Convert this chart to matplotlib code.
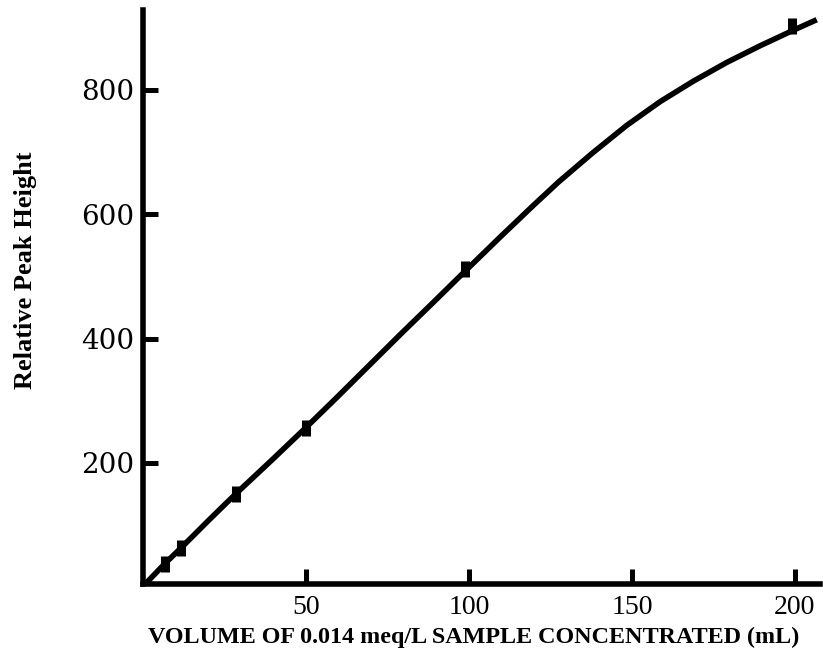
import matplotlib
matplotlib.use("Agg")
import matplotlib.pyplot as plt

# Measured data points (volume mL, relative peak height)
point_x = [6.7, 11.6, 28.4, 50, 98.9, 199]
point_y = [38, 63, 150, 257, 512, 903]

# Fitted calibration curve
curve_x = [1, 6.7, 11.6, 20, 28.4, 40, 50, 59, 69, 79, 89, 99.3, 109.5, 119.7,
           127.5, 138, 148.4, 158.6, 168.8, 179, 189.3, 199.5, 206.7]
curve_y = [7, 38, 63, 107, 150, 207, 257, 303, 355, 407, 458, 511, 563, 614,
           652, 699, 743, 781, 814, 844, 871, 896, 913]

x_ticks = [50, 100, 150, 200]
y_ticks = [200, 400, 600, 800]

x_label = "VOLUME OF 0.014 meq/L SAMPLE CONCENTRATED (mL)"
y_label = "Relative Peak Height"

W, H = 823, 658
fig = plt.figure(figsize=(W / 100, H / 100), dpi=100)
ax = fig.add_axes([143 / W, (H - 584) / H, (820 - 143) / W, (584 - 10) / H])

ax.plot(curve_x, curve_y, color="black", lw=4, solid_capstyle="butt", solid_joinstyle="round")
ax.plot(point_x, point_y, linestyle="none", marker="|", color="black", ms=11.5, mew=6.5)

ax.set_xlim(0, 207.7)
ax.set_ylim(5.3, 928.6)

for side in ("top", "right"):
    ax.spines[side].set_visible(False)
for side in ("left", "bottom"):
    ax.spines[side].set_linewidth(4)
    ax.spines[side].set_capstyle("projecting")

ax.set_xticks(x_ticks)
ax.set_yticks(y_ticks)
ax.tick_params(axis="both", direction="in", length=11, width=3.6, color="black")
ax.tick_params(axis="x", pad=8)
ax.tick_params(axis="y", pad=6)
for lab in ax.get_xticklabels():
    lab.set_fontfamily("Liberation Serif")
    lab.set_fontsize(20)
for lab in ax.get_yticklabels():
    lab.set_fontfamily("DejaVu Serif")
    lab.set_fontsize(20)

fig.text(474 / W, 1 - 637 / H, x_label, ha="center", va="center",
         fontfamily="Liberation Serif", fontweight="bold", fontsize=17.4)
fig.text(26 / W, 1 - 270 / H, y_label, ha="center", va="center", rotation=90,
         fontfamily="Liberation Serif", fontweight="bold", fontsize=19)

fig.savefig("out.png", dpi=100, facecolor="white")
